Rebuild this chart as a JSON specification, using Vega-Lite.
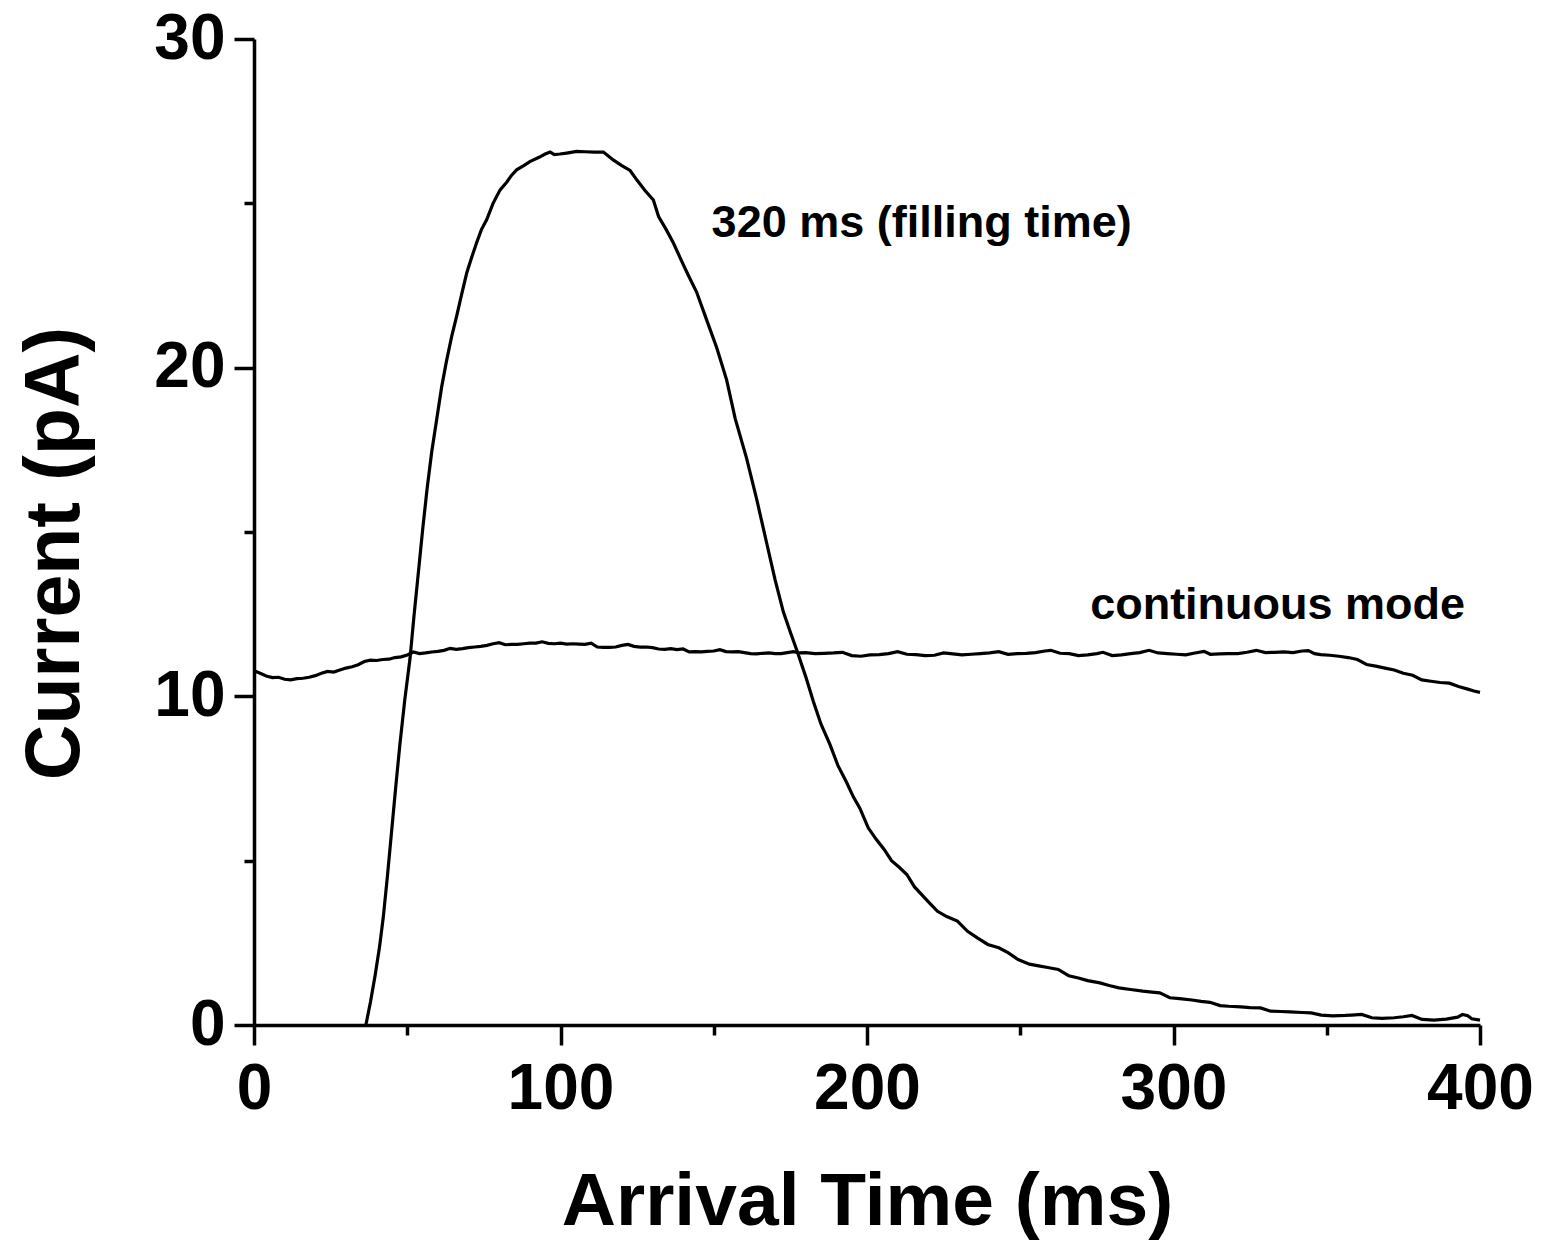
{
  "$schema": "https://vega.github.io/schema/vega-lite/v6.json",
  "width": 1226,
  "height": 986,
  "autosize": {"type": "none"},
  "padding": {"left": 254, "top": 39, "right": 61, "bottom": 216},
  "background": "white",
  "config": {
    "view": {"stroke": null},
    "font": "Liberation Sans",
    "axis": {
      "domainColor": "black",
      "domainWidth": 3.5,
      "tickColor": "black",
      "tickWidth": 3.5,
      "grid": false,
      "labelFont": "Liberation Sans",
      "labelFontWeight": "bold",
      "labelColor": "black",
      "titleFont": "Liberation Sans",
      "titleFontWeight": "bold",
      "titleColor": "black"
    }
  },
  "datasets": {
    "curves": [
      {"series": "continuous", "t": 0, "I": 10.78},
      {"series": "continuous", "t": 2, "I": 10.7},
      {"series": "continuous", "t": 4, "I": 10.62},
      {"series": "continuous", "t": 6, "I": 10.57},
      {"series": "continuous", "t": 8, "I": 10.58},
      {"series": "continuous", "t": 10, "I": 10.52},
      {"series": "continuous", "t": 12, "I": 10.5},
      {"series": "continuous", "t": 14, "I": 10.54},
      {"series": "continuous", "t": 16, "I": 10.55},
      {"series": "continuous", "t": 18, "I": 10.58},
      {"series": "continuous", "t": 20, "I": 10.63},
      {"series": "continuous", "t": 22, "I": 10.7},
      {"series": "continuous", "t": 24, "I": 10.76},
      {"series": "continuous", "t": 26, "I": 10.74},
      {"series": "continuous", "t": 28, "I": 10.8},
      {"series": "continuous", "t": 30, "I": 10.86},
      {"series": "continuous", "t": 32, "I": 10.9},
      {"series": "continuous", "t": 34, "I": 10.96},
      {"series": "continuous", "t": 36, "I": 11.06},
      {"series": "continuous", "t": 38, "I": 11.1},
      {"series": "continuous", "t": 40, "I": 11.09},
      {"series": "continuous", "t": 42, "I": 11.12},
      {"series": "continuous", "t": 44, "I": 11.13},
      {"series": "continuous", "t": 46, "I": 11.18},
      {"series": "continuous", "t": 48, "I": 11.2},
      {"series": "continuous", "t": 50, "I": 11.26},
      {"series": "continuous", "t": 52, "I": 11.35},
      {"series": "continuous", "t": 54, "I": 11.3},
      {"series": "continuous", "t": 56, "I": 11.32},
      {"series": "continuous", "t": 58, "I": 11.35},
      {"series": "continuous", "t": 60, "I": 11.37},
      {"series": "continuous", "t": 62, "I": 11.4},
      {"series": "continuous", "t": 64, "I": 11.46},
      {"series": "continuous", "t": 66, "I": 11.43},
      {"series": "continuous", "t": 68, "I": 11.45},
      {"series": "continuous", "t": 70, "I": 11.48},
      {"series": "continuous", "t": 72, "I": 11.5},
      {"series": "continuous", "t": 74, "I": 11.52},
      {"series": "continuous", "t": 76, "I": 11.55},
      {"series": "continuous", "t": 78, "I": 11.6},
      {"series": "continuous", "t": 80, "I": 11.63},
      {"series": "continuous", "t": 82, "I": 11.57},
      {"series": "continuous", "t": 84, "I": 11.58},
      {"series": "continuous", "t": 86, "I": 11.58},
      {"series": "continuous", "t": 88, "I": 11.6},
      {"series": "continuous", "t": 90, "I": 11.62},
      {"series": "continuous", "t": 92, "I": 11.62},
      {"series": "continuous", "t": 94, "I": 11.66},
      {"series": "continuous", "t": 96, "I": 11.61},
      {"series": "continuous", "t": 98, "I": 11.6},
      {"series": "continuous", "t": 100, "I": 11.62},
      {"series": "continuous", "t": 102, "I": 11.59},
      {"series": "continuous", "t": 104, "I": 11.6},
      {"series": "continuous", "t": 106, "I": 11.59},
      {"series": "continuous", "t": 108, "I": 11.58},
      {"series": "continuous", "t": 110, "I": 11.62},
      {"series": "continuous", "t": 112, "I": 11.5},
      {"series": "continuous", "t": 114, "I": 11.49},
      {"series": "continuous", "t": 116, "I": 11.49},
      {"series": "continuous", "t": 118, "I": 11.5},
      {"series": "continuous", "t": 120, "I": 11.55},
      {"series": "continuous", "t": 122, "I": 11.58},
      {"series": "continuous", "t": 124, "I": 11.52},
      {"series": "continuous", "t": 126, "I": 11.5},
      {"series": "continuous", "t": 128, "I": 11.5},
      {"series": "continuous", "t": 130, "I": 11.48},
      {"series": "continuous", "t": 132, "I": 11.44},
      {"series": "continuous", "t": 134, "I": 11.43},
      {"series": "continuous", "t": 136, "I": 11.45},
      {"series": "continuous", "t": 138, "I": 11.42},
      {"series": "continuous", "t": 140, "I": 11.44},
      {"series": "continuous", "t": 142, "I": 11.35},
      {"series": "continuous", "t": 144, "I": 11.36},
      {"series": "continuous", "t": 146, "I": 11.35},
      {"series": "continuous", "t": 148, "I": 11.37},
      {"series": "continuous", "t": 150, "I": 11.38},
      {"series": "continuous", "t": 152, "I": 11.42},
      {"series": "continuous", "t": 154, "I": 11.36},
      {"series": "continuous", "t": 156, "I": 11.35},
      {"series": "continuous", "t": 158, "I": 11.36},
      {"series": "continuous", "t": 160, "I": 11.33},
      {"series": "continuous", "t": 162, "I": 11.3},
      {"series": "continuous", "t": 164, "I": 11.29},
      {"series": "continuous", "t": 166, "I": 11.31},
      {"series": "continuous", "t": 168, "I": 11.32},
      {"series": "continuous", "t": 170, "I": 11.3},
      {"series": "continuous", "t": 172, "I": 11.3},
      {"series": "continuous", "t": 174, "I": 11.33},
      {"series": "continuous", "t": 176, "I": 11.36},
      {"series": "continuous", "t": 178, "I": 11.32},
      {"series": "continuous", "t": 180, "I": 11.33},
      {"series": "continuous", "t": 183, "I": 11.3},
      {"series": "continuous", "t": 186, "I": 11.31},
      {"series": "continuous", "t": 189, "I": 11.32},
      {"series": "continuous", "t": 192, "I": 11.34},
      {"series": "continuous", "t": 195, "I": 11.24},
      {"series": "continuous", "t": 198, "I": 11.22},
      {"series": "continuous", "t": 201, "I": 11.26},
      {"series": "continuous", "t": 204, "I": 11.27},
      {"series": "continuous", "t": 207, "I": 11.3},
      {"series": "continuous", "t": 210, "I": 11.36},
      {"series": "continuous", "t": 213, "I": 11.28},
      {"series": "continuous", "t": 216, "I": 11.27},
      {"series": "continuous", "t": 219, "I": 11.24},
      {"series": "continuous", "t": 222, "I": 11.25},
      {"series": "continuous", "t": 225, "I": 11.32},
      {"series": "continuous", "t": 228, "I": 11.29},
      {"series": "continuous", "t": 231, "I": 11.26},
      {"series": "continuous", "t": 234, "I": 11.28},
      {"series": "continuous", "t": 237, "I": 11.3},
      {"series": "continuous", "t": 240, "I": 11.32},
      {"series": "continuous", "t": 243, "I": 11.36},
      {"series": "continuous", "t": 246, "I": 11.28},
      {"series": "continuous", "t": 249, "I": 11.3},
      {"series": "continuous", "t": 252, "I": 11.31},
      {"series": "continuous", "t": 255, "I": 11.33},
      {"series": "continuous", "t": 258, "I": 11.38},
      {"series": "continuous", "t": 260, "I": 11.4},
      {"series": "continuous", "t": 263, "I": 11.31},
      {"series": "continuous", "t": 266, "I": 11.3},
      {"series": "continuous", "t": 269, "I": 11.24},
      {"series": "continuous", "t": 272, "I": 11.26},
      {"series": "continuous", "t": 275, "I": 11.3},
      {"series": "continuous", "t": 277, "I": 11.34},
      {"series": "continuous", "t": 280, "I": 11.24},
      {"series": "continuous", "t": 283, "I": 11.26},
      {"series": "continuous", "t": 286, "I": 11.3},
      {"series": "continuous", "t": 289, "I": 11.33},
      {"series": "continuous", "t": 292, "I": 11.4},
      {"series": "continuous", "t": 295, "I": 11.32},
      {"series": "continuous", "t": 298, "I": 11.3},
      {"series": "continuous", "t": 301, "I": 11.28},
      {"series": "continuous", "t": 304, "I": 11.26},
      {"series": "continuous", "t": 307, "I": 11.32},
      {"series": "continuous", "t": 310, "I": 11.37},
      {"series": "continuous", "t": 312, "I": 11.28},
      {"series": "continuous", "t": 315, "I": 11.29},
      {"series": "continuous", "t": 318, "I": 11.3},
      {"series": "continuous", "t": 321, "I": 11.3},
      {"series": "continuous", "t": 324, "I": 11.34},
      {"series": "continuous", "t": 327, "I": 11.4},
      {"series": "continuous", "t": 330, "I": 11.33},
      {"series": "continuous", "t": 333, "I": 11.34},
      {"series": "continuous", "t": 336, "I": 11.35},
      {"series": "continuous", "t": 339, "I": 11.33},
      {"series": "continuous", "t": 342, "I": 11.38},
      {"series": "continuous", "t": 344, "I": 11.39},
      {"series": "continuous", "t": 346, "I": 11.3},
      {"series": "continuous", "t": 348, "I": 11.27},
      {"series": "continuous", "t": 351, "I": 11.25},
      {"series": "continuous", "t": 354, "I": 11.22},
      {"series": "continuous", "t": 357, "I": 11.18},
      {"series": "continuous", "t": 360, "I": 11.12},
      {"series": "continuous", "t": 363, "I": 10.97},
      {"series": "continuous", "t": 366, "I": 10.92},
      {"series": "continuous", "t": 369, "I": 10.86},
      {"series": "continuous", "t": 372, "I": 10.8},
      {"series": "continuous", "t": 375, "I": 10.7},
      {"series": "continuous", "t": 378, "I": 10.64},
      {"series": "continuous", "t": 381, "I": 10.5},
      {"series": "continuous", "t": 384, "I": 10.46},
      {"series": "continuous", "t": 387, "I": 10.42},
      {"series": "continuous", "t": 390, "I": 10.4},
      {"series": "continuous", "t": 393, "I": 10.3},
      {"series": "continuous", "t": 396, "I": 10.22},
      {"series": "continuous", "t": 398, "I": 10.16},
      {"series": "continuous", "t": 400, "I": 10.12},
      {"series": "pulsed", "t": 36.5, "I": 0},
      {"series": "pulsed", "t": 38, "I": 0.7},
      {"series": "pulsed", "t": 39.5, "I": 1.5},
      {"series": "pulsed", "t": 41, "I": 2.4},
      {"series": "pulsed", "t": 42.2, "I": 3.3},
      {"series": "pulsed", "t": 43.5, "I": 4.5},
      {"series": "pulsed", "t": 44.9, "I": 5.9},
      {"series": "pulsed", "t": 46.2, "I": 7.2},
      {"series": "pulsed", "t": 47.6, "I": 8.54},
      {"series": "pulsed", "t": 49.2, "I": 9.9},
      {"series": "pulsed", "t": 50.9, "I": 11.15},
      {"series": "pulsed", "t": 52.2, "I": 12.45},
      {"series": "pulsed", "t": 53.6, "I": 13.74},
      {"series": "pulsed", "t": 55, "I": 15.05},
      {"series": "pulsed", "t": 56.5, "I": 16.34},
      {"series": "pulsed", "t": 58, "I": 17.45},
      {"series": "pulsed", "t": 59.6, "I": 18.42},
      {"series": "pulsed", "t": 61.2, "I": 19.4},
      {"series": "pulsed", "t": 62.8, "I": 20.2},
      {"series": "pulsed", "t": 64.5, "I": 20.95},
      {"series": "pulsed", "t": 66.1, "I": 21.56},
      {"series": "pulsed", "t": 67.8, "I": 22.25},
      {"series": "pulsed", "t": 69.4, "I": 22.88},
      {"series": "pulsed", "t": 71, "I": 23.35},
      {"series": "pulsed", "t": 72.6, "I": 23.79},
      {"series": "pulsed", "t": 74.2, "I": 24.2},
      {"series": "pulsed", "t": 75.9, "I": 24.5},
      {"series": "pulsed", "t": 78, "I": 25.0},
      {"series": "pulsed", "t": 80.3, "I": 25.41},
      {"series": "pulsed", "t": 82.5, "I": 25.65},
      {"series": "pulsed", "t": 84, "I": 25.85},
      {"series": "pulsed", "t": 85.7, "I": 26.02},
      {"series": "pulsed", "t": 88, "I": 26.15},
      {"series": "pulsed", "t": 90, "I": 26.27},
      {"series": "pulsed", "t": 93, "I": 26.4},
      {"series": "pulsed", "t": 95, "I": 26.5},
      {"series": "pulsed", "t": 96.6, "I": 26.56},
      {"series": "pulsed", "t": 98, "I": 26.48},
      {"series": "pulsed", "t": 99.8, "I": 26.5},
      {"series": "pulsed", "t": 102, "I": 26.53},
      {"series": "pulsed", "t": 105.3, "I": 26.58},
      {"series": "pulsed", "t": 108, "I": 26.57},
      {"series": "pulsed", "t": 111, "I": 26.56},
      {"series": "pulsed", "t": 114, "I": 26.56},
      {"series": "pulsed", "t": 115.5, "I": 26.45},
      {"series": "pulsed", "t": 117.2, "I": 26.32},
      {"series": "pulsed", "t": 120, "I": 26.15},
      {"series": "pulsed", "t": 122.7, "I": 26.0},
      {"series": "pulsed", "t": 125, "I": 25.7},
      {"series": "pulsed", "t": 127.5, "I": 25.4},
      {"series": "pulsed", "t": 130.3, "I": 25.1},
      {"series": "pulsed", "t": 132, "I": 24.6},
      {"series": "pulsed", "t": 134.5, "I": 24.2},
      {"series": "pulsed", "t": 136.8, "I": 23.8},
      {"series": "pulsed", "t": 139, "I": 23.35},
      {"series": "pulsed", "t": 141.5, "I": 22.85},
      {"series": "pulsed", "t": 144.4, "I": 22.3},
      {"series": "pulsed", "t": 147.5, "I": 21.5},
      {"series": "pulsed", "t": 151, "I": 20.6},
      {"series": "pulsed", "t": 154.2, "I": 19.63},
      {"series": "pulsed", "t": 157, "I": 18.45},
      {"series": "pulsed", "t": 160.7, "I": 17.25},
      {"series": "pulsed", "t": 164, "I": 16.0},
      {"series": "pulsed", "t": 167.3, "I": 14.65},
      {"series": "pulsed", "t": 170, "I": 13.55},
      {"series": "pulsed", "t": 172.7, "I": 12.57},
      {"series": "pulsed", "t": 175, "I": 11.95},
      {"series": "pulsed", "t": 177.1, "I": 11.4},
      {"series": "pulsed", "t": 180, "I": 10.6},
      {"series": "pulsed", "t": 182.5, "I": 9.84},
      {"series": "pulsed", "t": 185, "I": 9.15},
      {"series": "pulsed", "t": 187.9, "I": 8.54},
      {"series": "pulsed", "t": 190.5, "I": 7.9},
      {"series": "pulsed", "t": 193.4, "I": 7.37},
      {"series": "pulsed", "t": 195.5, "I": 6.95},
      {"series": "pulsed", "t": 197.7, "I": 6.59},
      {"series": "pulsed", "t": 200.4, "I": 6.0},
      {"series": "pulsed", "t": 203, "I": 5.65},
      {"series": "pulsed", "t": 205.6, "I": 5.34},
      {"series": "pulsed", "t": 208, "I": 5.0},
      {"series": "pulsed", "t": 210.5, "I": 4.8},
      {"series": "pulsed", "t": 213, "I": 4.58},
      {"series": "pulsed", "t": 215.5, "I": 4.2},
      {"series": "pulsed", "t": 218, "I": 3.95},
      {"series": "pulsed", "t": 220.5, "I": 3.7},
      {"series": "pulsed", "t": 223, "I": 3.46},
      {"series": "pulsed", "t": 226, "I": 3.3},
      {"series": "pulsed", "t": 229.5, "I": 3.16},
      {"series": "pulsed", "t": 232.8, "I": 2.85},
      {"series": "pulsed", "t": 236, "I": 2.65},
      {"series": "pulsed", "t": 239.4, "I": 2.45},
      {"series": "pulsed", "t": 243, "I": 2.35},
      {"series": "pulsed", "t": 246, "I": 2.2},
      {"series": "pulsed", "t": 249.3, "I": 1.99},
      {"series": "pulsed", "t": 253, "I": 1.85},
      {"series": "pulsed", "t": 256, "I": 1.8},
      {"series": "pulsed", "t": 259, "I": 1.75},
      {"series": "pulsed", "t": 262.4, "I": 1.69},
      {"series": "pulsed", "t": 265.8, "I": 1.5},
      {"series": "pulsed", "t": 269, "I": 1.43},
      {"series": "pulsed", "t": 272, "I": 1.35},
      {"series": "pulsed", "t": 276, "I": 1.28},
      {"series": "pulsed", "t": 279, "I": 1.2},
      {"series": "pulsed", "t": 282.2, "I": 1.13},
      {"series": "pulsed", "t": 286, "I": 1.08},
      {"series": "pulsed", "t": 290, "I": 1.03},
      {"series": "pulsed", "t": 293, "I": 1.0},
      {"series": "pulsed", "t": 295.5, "I": 0.98},
      {"series": "pulsed", "t": 298.8, "I": 0.83},
      {"series": "pulsed", "t": 302, "I": 0.8},
      {"series": "pulsed", "t": 306, "I": 0.76},
      {"series": "pulsed", "t": 309, "I": 0.72},
      {"series": "pulsed", "t": 311.9, "I": 0.69},
      {"series": "pulsed", "t": 315.2, "I": 0.59},
      {"series": "pulsed", "t": 318, "I": 0.57},
      {"series": "pulsed", "t": 322, "I": 0.55},
      {"series": "pulsed", "t": 325, "I": 0.53},
      {"series": "pulsed", "t": 328.4, "I": 0.52},
      {"series": "pulsed", "t": 331.7, "I": 0.42},
      {"series": "pulsed", "t": 335, "I": 0.41},
      {"series": "pulsed", "t": 338, "I": 0.4},
      {"series": "pulsed", "t": 342, "I": 0.38},
      {"series": "pulsed", "t": 344.9, "I": 0.37},
      {"series": "pulsed", "t": 348.2, "I": 0.3},
      {"series": "pulsed", "t": 352, "I": 0.28},
      {"series": "pulsed", "t": 356, "I": 0.29},
      {"series": "pulsed", "t": 358, "I": 0.3},
      {"series": "pulsed", "t": 361.4, "I": 0.32},
      {"series": "pulsed", "t": 364.7, "I": 0.22},
      {"series": "pulsed", "t": 368, "I": 0.2},
      {"series": "pulsed", "t": 372, "I": 0.22},
      {"series": "pulsed", "t": 375, "I": 0.25},
      {"series": "pulsed", "t": 377.8, "I": 0.29},
      {"series": "pulsed", "t": 381.1, "I": 0.17},
      {"series": "pulsed", "t": 385, "I": 0.15},
      {"series": "pulsed", "t": 389, "I": 0.18},
      {"series": "pulsed", "t": 392.7, "I": 0.24},
      {"series": "pulsed", "t": 394.3, "I": 0.32},
      {"series": "pulsed", "t": 396, "I": 0.28},
      {"series": "pulsed", "t": 397.3, "I": 0.19},
      {"series": "pulsed", "t": 400, "I": 0.15}
    ],
    "labels": [
      {"t": 149.3, "I": 23.97, "text": "320 ms (filling time)"},
      {"t": 272.8, "I": 12.36, "text": "continuous mode"}
    ]
  },
  "layer": [
    {
      "data": {"name": "curves"},
      "mark": {"type": "line", "color": "black", "strokeWidth": 3.2, "interpolate": "linear"},
      "encoding": {
        "x": {
          "field": "t",
          "type": "quantitative",
          "scale": {"domain": [0, 400], "nice": false, "zero": false},
          "axis": {
            "title": "Arrival Time (ms)",
            "values": [0, 50, 100, 150, 200, 250, 300, 350, 400],
            "labelExpr": "datum.value % 100 === 0 ? datum.label : ''",
            "labelFontSize": 64,
            "labelPadding": 12,
            "labelFlush": false,
            "labelOverlap": false,
            "tickSize": {"condition": {"test": "datum.value % 100 === 0", "value": 20}, "value": 10},
            "titleFontSize": 75,
            "titleBaseline": "alphabetic",
            "titleX": 613,
            "titleY": 199,
            "titleAlign": "center"
          }
        },
        "y": {
          "field": "I",
          "type": "quantitative",
          "scale": {"domain": [0, 30], "nice": false},
          "axis": {
            "title": "Current (pA)",
            "values": [0, 5, 10, 15, 20, 25, 30],
            "labelExpr": "datum.value % 10 === 0 ? datum.label : ''",
            "labelFontSize": 64,
            "labelPadding": 9,
            "labelFlush": false,
            "labelOverlap": false,
            "tickSize": {"condition": {"test": "datum.value % 10 === 0", "value": 20}, "value": 10},
            "titleFontSize": 77,
            "titleAngle": -90,
            "titleBaseline": "alphabetic",
            "titleAlign": "center",
            "titleX": -176,
            "titleY": 514
          }
        },
        "detail": {"field": "series"}
      }
    },
    {
      "data": {"name": "labels"},
      "mark": {"type": "text", "align": "left", "baseline": "alphabetic", "fontSize": 45, "fontWeight": "bold", "font": "Liberation Sans", "color": "black"},
      "encoding": {
        "x": {"field": "t", "type": "quantitative"},
        "y": {"field": "I", "type": "quantitative"},
        "text": {"field": "text"}
      }
    }
  ]
}
